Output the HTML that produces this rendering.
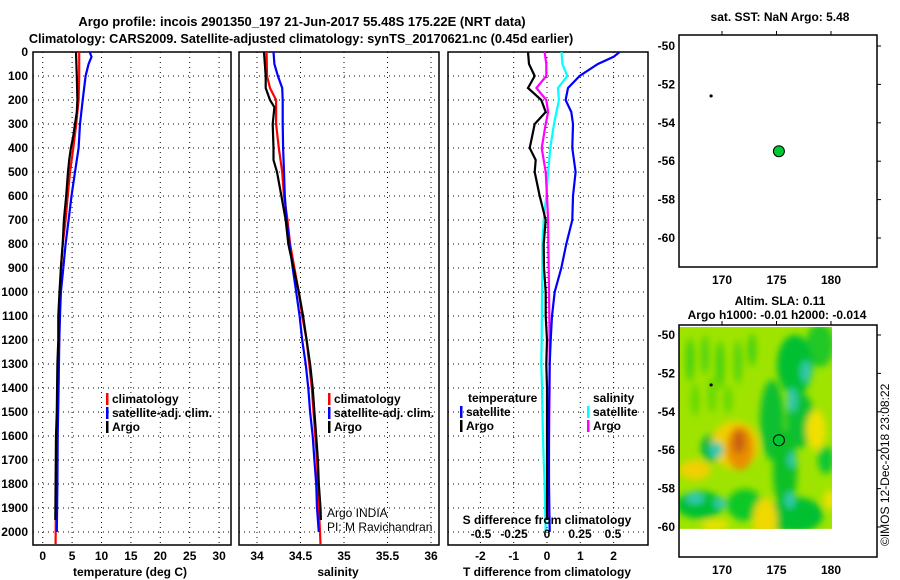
<!DOCTYPE html>
<html><head><meta charset="utf-8"><style>
body{margin:0;background:#fff;width:900px;height:580px;overflow:hidden}
svg{display:block;font-family:"Liberation Sans",sans-serif}
</style></head><body>
<svg id="s" width="900" height="580" viewBox="0 0 900 580">
<text x="302" y="26" text-anchor="middle" font-weight="bold" font-size="13">Argo profile: incois 2901350_197 21-Jun-2017 55.48S 175.22E (NRT data)</text>
<text x="301" y="43" text-anchor="middle" font-weight="bold" font-size="12.7">Climatology: CARS2009. Satellite-adjusted climatology: synTS_20170621.nc (0.45d earlier)</text>
<g id="g"></g>
</svg>
<script>
// ---- data ----
const tDepth=[0,100,200,250,300,350,400,450,500,600,700,800,900,1000,1100,1200,1300,1500,1600,1800,1950];
const tArgo=[5.67,5.8,5.9,5.8,5.5,5.2,4.8,4.5,4.3,4.0,3.6,3.4,3.1,2.85,2.66,2.66,2.5,2.4,2.27,2.2,2.15];
const cDepth=[0,100,200,300,400,500,600,700,800,900,1000,1200,1400,1600,1800,2050];
const tClim=[6.2,6.2,6.1,5.7,5.2,4.65,4.25,3.9,3.4,3.1,2.95,2.8,2.55,2.4,2.27,2.2];
const sDepth=[0,20,50,100,200,300,400,500,600,700,800,900,1000,1100,1200,1400,1600,1800,2000];
const tSat=[8.0,8.3,7.8,7.3,6.8,6.35,6.1,5.5,4.9,4.4,3.9,3.5,3.1,2.95,2.83,2.7,2.55,2.5,2.4];
const saDepth=[0,100,150,200,230,300,400,450,500,600,700,800,900,1000,1100,1200,1300,1400,1500,1600,1700,1800,1900,1950];
const sArgo=[34.08,34.1,34.1,34.15,34.2,34.18,34.19,34.19,34.23,34.28,34.33,34.36,34.42,34.48,34.53,34.57,34.61,34.64,34.66,34.68,34.70,34.71,34.73,34.735];
const scDepth=[0,100,150,200,300,400,500,600,700,800,900,1000,1100,1200,1300,1400,1500,1600,1700,1800,2050];
const sClim=[34.11,34.115,34.15,34.22,34.22,34.25,34.29,34.31,34.35,34.38,34.43,34.48,34.52,34.57,34.6,34.63,34.65,34.67,34.69,34.70,34.73];
const ssDepth=[0,50,100,150,200,300,400,500,600,700,800,900,1000,1100,1200,1300,1400,1500,1600,1700,1800,1900,2000];
const sSat=[34.19,34.2,34.24,34.29,34.295,34.295,34.3,34.31,34.32,34.34,34.375,34.41,34.45,34.49,34.52,34.56,34.59,34.61,34.64,34.66,34.68,34.69,34.71];
const dtSatDepth=[0,20,50,100,150,200,250,300,400,500,600,700,800,900,1000,1100,1200,1300,1500,1800,2000];
const dtSat=[2.18,2.0,1.53,0.98,0.63,0.56,0.73,0.78,0.76,0.86,0.78,0.76,0.58,0.43,0.23,0.15,0.11,0.08,0.06,0.06,0.08];
const dtArgoDepth=[0,50,100,150,200,250,300,400,450,500,600,700,800,900,1000,1100,1200,1300,1400,1600,1800,1950];
const dtArgo=[-0.57,-0.54,-0.37,-0.57,-0.17,-0.04,-0.37,-0.52,-0.34,-0.37,-0.22,-0.04,-0.1,-0.09,-0.04,-0.04,0,-0.02,0,0,0,0];
const dsDepth=[0,50,100,150,200,300,400,500,600,700,800,900,1000,1200,1300,1400,1500,1600,1700,1800,2000];
const dsSat=[0.11,0.117,0.154,0.083,0.09,0.053,0.025,0.008,-0.005,-0.025,-0.035,-0.035,-0.038,-0.04,-0.043,-0.038,-0.035,-0.03,-0.025,-0.018,-0.01];
const dsArgoDepth=[0,50,100,150,200,250,300,400,500,600,700,800,900,1000,1200,1400,1600,1800,1950];
const dsArgo=[-0.018,-0.005,-0.005,-0.08,-0.005,0.008,-0.01,-0.04,-0.01,0,0.008,0.01,0.013,0.015,0.02,0.02,0.015,0.01,0.008];
const depthTicks=[0,100,200,300,400,500,600,700,800,900,1000,1100,1200,1300,1400,1500,1600,1700,1800,1900,2000];
const tTicks=[0,5,10,15,20,25,30];
const sTicks=[34,34.5,35,35.5,36];
const dtTicks=[-2,-1,0,1,2];
const dsTicks=[-0.5,-0.25,0,0.25,0.5];
const dsTickLabels=["-0.5","-0.25","0","0.25","0.5"];
const latTicks=[-50,-52,-54,-56,-58,-60];
const lonTicks=[170,175,180];
const argoPos=[175.22,-55.48];
const otherPos=[169.0,-52.6];

// ---- scales ----
const Y0=52,Y1=545;
const yD=d=>Y0+d*0.24;
const xT=t=>42.7+t*5.88;
const xS=s=>257+(s-34)*87;
const xDT=t=>547+t*33.3;
const xDS=s=>547+s*132;
const NS="http://www.w3.org/2000/svg";
const G=document.getElementById('g');
function mk(tag,at,par){const e=document.createElementNS(NS,tag);for(const k in at)e.setAttribute(k,at[k]);(par||G).appendChild(e);return e;}
function txt(x,y,s,at,par){const e=mk('text',Object.assign({x:x,y:y},at||{}),par);e.textContent=s;return e;}

function panel(name,x0,x1,ticks,xf,labels,labelY){
  const g=mk('g',{});
  
  
  for(const d of depthTicks){const l=mk('line',{x1:x0,x2:x1,y1:yD(d),y2:yD(d),stroke:'#000','stroke-width':1,'stroke-dasharray':'1,4'},g);
    
    }
  ticks.forEach((t,i)=>{const x=xf(t);const l=mk('line',{x1:x,x2:x,y1:Y0,y2:Y1,stroke:'#000','stroke-width':1,'stroke-dasharray':'1,4'},g);
    
    
    if(labels){const tx=txt(x,labelY,labels[i],{'text-anchor':'middle','font-size':12,'font-weight':'bold'},g);
      
      }});
  const r=mk('rect',{x:x0,y:Y0,width:x1-x0,height:Y1-Y0,fill:'none',stroke:'#000','stroke-width':1.5},g);
  
  
  return g;
}
function line(par,depths,vals,xf,color,name){
  const pts=depths.map((d,i)=>xf(vals[i]).toFixed(1)+','+yD(d).toFixed(1)).join(' ');
  const p=mk('polyline',{points:pts,fill:'none',stroke:color,'stroke-width':2.2},par);
  
  
}
function legend(par,x,y,items){
  items.forEach((it,i)=>{
    const m=mk('rect',{x:x,y:y+i*14-10,width:2.5,height:12,fill:it[1]},par);
    
    
    const t=txt(x+6,y+i*14,it[0],{'font-size':12,'font-weight':'bold'},par);
    
    
  });
}

for(const d of depthTicks){const t=txt(28,yD(d)+4,String(d),{'text-anchor':'end','font-size':12,'font-weight':'bold'});
  
  }

const p1=panel('temperature-panel',33,231,tTicks,xT,tTicks.map(String),560);
line(p1,cDepth,tClim,xT,'#ff0000','climatology-temperature-line');
line(p1,sDepth,tSat,xT,'#0000ff','satellite-temperature-line');
line(p1,tDepth,tArgo,xT,'#000','argo-temperature-line');
legend(p1,106,403,[['climatology','#ff0000'],['satellite-adj. clim.','#0000ff'],['Argo','#000']]);
let t=txt(130,576,'temperature (deg C)',{'text-anchor':'middle','font-size':12,'font-weight':'bold'});



const p2=panel('salinity-panel',239,439,sTicks,xS,sTicks.map(String),560);
line(p2,scDepth,sClim,xS,'#ff0000','climatology-salinity-line');
line(p2,ssDepth,sSat,xS,'#0000ff','satellite-salinity-line');
line(p2,saDepth,sArgo,xS,'#000','argo-salinity-line');
legend(p2,328,403,[['climatology','#ff0000'],['satellite-adj. clim.','#0000ff'],['Argo','#000']]);
t=txt(338,576,'salinity',{'text-anchor':'middle','font-size':12,'font-weight':'bold'});


t=txt(327,517,'Argo INDIA',{'font-size':12});


t=txt(327,531,'PI: M Ravichandran',{'font-size':12});



const p3=panel('difference-panel',448,648,dtTicks,xDT,dtTicks.map(String),560);
line(p3,dsDepth,dsSat,xDS,'#00ffff','satellite-salinity-diff-line');
line(p3,dsArgoDepth,dsArgo,xDS,'#ff00ff','argo-salinity-diff-line');
line(p3,dtSatDepth,dtSat,xDT,'#0000ff','satellite-temperature-diff-line');
line(p3,dtArgoDepth,dtArgo,xDT,'#000','argo-temperature-diff-line');
t=txt(468,402,'temperature',{'font-size':12,'font-weight':'bold'});


t=txt(593,402,'salinity',{'font-size':12,'font-weight':'bold'});


legend(p3,460,416,[['satellite','#0000ff'],['Argo','#000']]);
legend(p3,587,416,[['satellite','#00ffff'],['Argo','#ff00ff']]);
t=txt(547,524,'S difference from climatology',{'text-anchor':'middle','font-size':12,'font-weight':'bold'});


dsTicks.forEach((v,i)=>{const e=txt(xDS(v),538,dsTickLabels[i],{'text-anchor':'middle','font-size':12,'font-weight':'bold'});
  
  });
t=txt(547,576,'T difference from climatology',{'text-anchor':'middle','font-size':12,'font-weight':'bold'});



function map(name,top,latY0,title1,title2,heat){
  const g=mk('g',{});
  
  
  const lx=lon=>722+(lon-170)*10.9;
  const ly=lat=>latY0+(-50-lat)*19.2;
  if(heat){
    const defs=mk('defs',{},g);
    const f=mk('filter',{id:'bl',x:'-50%',y:'-50%',width:'200%',height:'200%'},defs);
    mk('feGaussianBlur',{stdDeviation:3.5},f);
    const cp=mk('clipPath',{id:'hc'},defs);
    mk('rect',{x:679,y:top+2,width:153,height:ly(-60.1)-top-2},cp);
    const hg=mk('g',{'clip-path':'url(#hc)'},g);
    
    
    mk('rect',{x:679,y:top,width:153,height:220,fill:'#9ee400'},hg);
    const bg=mk('g',{filter:'url(#bl)'},hg);
    const o=latY0-335;
    const blobs=[
      [690,360,4,22,'#40d010'],[705,355,4,20,'#50d410'],[720,365,4,24,'#40d010'],[738,362,4,22,'#50d410'],[752,350,4,16,'#40d010'],
      [695,400,4,16,'#60d800'],[712,395,4,18,'#60d800'],[728,400,4,14,'#60d800'],
      [820,345,14,22,'#20c828'],[795,365,18,30,'#00c030'],[772,420,12,40,'#10c030'],[800,420,14,28,'#10c030'],[785,470,12,40,'#10c028'],
      [795,515,28,18,'#00c030'],[700,505,24,14,'#00c030'],[745,505,18,16,'#10c828'],[712,448,11,14,'#00b840'],[826,460,8,14,'#10c830'],
      [735,445,24,24,'#f0d000'],[740,448,14,22,'#e89000'],[739,442,6,12,'#c86010'],[816,430,10,20,'#f0e000'],[765,520,12,22,'#f0d800'],
      [695,470,16,10,'#f0d000'],[715,525,14,5,'#f0e000'],[830,500,6,10,'#f0e000']];
    for(const b of blobs){mk('ellipse',{cx:b[0],cy:b[1]+o,rx:b[2],ry:b[3],fill:b[4]},bg);}
    const cy=[[806,372,5,11],[792,400,5,12],[716,450,7,8],[792,460,4,8],[695,498,9,6],[720,503,6,6],[790,500,5,8]];
    for(const b of cy){mk('ellipse',{cx:b[0],cy:b[1]+o,rx:b[2],ry:b[3],fill:'#30c8b0'},bg);}
  }
  const r=mk('rect',{x:679,y:top,width:198,height:232,fill:'none',stroke:'#000','stroke-width':1.5},g);
  
  
  for(const la of latTicks){const y=ly(la);
    mk('line',{x1:877,x2:881,y1:y,y2:y,stroke:'#000'},g);
    const e=txt(675,y+4,String(la),{'text-anchor':'end','font-size':12,'font-weight':'bold'},g);
    
    }
  for(const lo of lonTicks){const x=lx(lo);
    mk('line',{x1:x,x2:x,y1:top,y2:top-4,stroke:'#000'},g);
    const e=txt(x,top+249,String(lo),{'text-anchor':'middle','font-size':12,'font-weight':'bold'},g);
    
    }
  const c=mk('circle',{cx:lx(argoPos[0]),cy:ly(argoPos[1]),r:5.5,fill:'#00c832',stroke:'#000','stroke-width':1},g);
  
  
  const d=mk('circle',{cx:lx(otherPos[0]),cy:ly(otherPos[1]),r:1.6,fill:'#000'},g);
  
  
  let e=txt(780,top-(title2?20:14),title1,{'text-anchor':'middle','font-size':12,'font-weight':'bold'},g);
  
  
  if(title2){e=txt(777,top-6,title2,{'text-anchor':'middle','font-size':12,'font-weight':'bold'},g);
    
    }
}
map('sst-map',35,46,'sat. SST: NaN Argo: 5.48',null,false);
map('sla-map',325,335,'Altim. SLA: 0.11','Argo h1000: -0.01 h2000: -0.014',true);
t=txt(0,0,'©IMOS 12-Dec-2018 23:08:22',{'font-size':12,transform:'translate(889,546) rotate(-90)'});


</script>
</body></html>
